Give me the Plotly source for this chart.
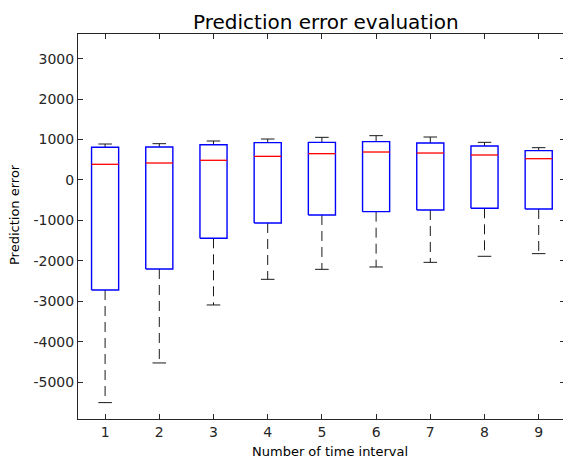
import plotly.graph_objects as go

# Data
intervals = [1, 2, 3, 4, 5, 6, 7, 8, 9]
upper_whisker = [890, 898, 964, 1013, 1055, 1096, 1063, 931, 799]
q3 = [808, 816, 873, 923, 931, 948, 915, 840, 725]
median = [388, 420, 487, 585, 651, 692, 667, 618, 527]
q1 = [-2720, -2200, -1442, -1063, -865, -783, -742, -700, -717]
lower_whisker = [-5505, -4524, -3090, -2456, -2209, -2151, -2036, -1887, -1821]
y_ticks = [-5000, -4000, -3000, -2000, -1000, 0, 1000, 2000, 3000]

W, H = 563, 461
ML, MR, MT, MB = 78, 0, 34, 42
box_half = 0.25
cap_half = 0.125

bx, by = [], []
mx, my = [], []
wx, wy = [], []
cx, cy = [], []
for x, lw, a, m, b, uw in zip(intervals, lower_whisker, q1, median, q3, upper_whisker):
    bx += [x - box_half, x - box_half, x + box_half, x + box_half, x - box_half, None]
    by += [a, b, b, a, a, None]
    mx += [x - box_half, x + box_half, None]
    my += [m, m, None]
    wx += [x, x, None, x, x, None]
    wy += [b, uw, None, a, lw, None]
    cx += [x - cap_half, x + cap_half, None, x - cap_half, x + cap_half, None]
    cy += [uw, uw, None, lw, lw, None]

fig = go.Figure()
fig.add_trace(go.Scatter(x=wx, y=wy, mode="lines", line=dict(color="#1a1a1a", width=1, dash="10px,6px"),
                         hoverinfo="skip", showlegend=False))
fig.add_trace(go.Scatter(x=cx, y=cy, mode="lines", line=dict(color="#1a1a1a", width=1),
                         hoverinfo="skip", showlegend=False))
fig.add_trace(go.Scatter(x=bx, y=by, mode="lines", line=dict(color="#0000ff", width=1.4),
                         hoverinfo="skip", showlegend=False))
fig.add_trace(go.Scatter(x=mx, y=my, mode="lines", line=dict(color="#ff0000", width=1.3),
                         hoverinfo="skip", showlegend=False))
# invisible trace to activate the right-side tick axis
fig.add_trace(go.Scatter(x=[intervals[0]], y=[0], yaxis="y2", mode="markers",
                         marker=dict(opacity=0), hoverinfo="skip", showlegend=False))

ppu = 54.2  # pixels per x unit
x_right = 0.5 + (W - ML - MR) / ppu
y_range = [-5910, 3610]
pw = W - ML - MR
ph = H - MT - MB

fig.update_layout(
    width=W, height=H,
    margin=dict(l=ML, r=MR, t=MT, b=MB, pad=0, autoexpand=False),
    paper_bgcolor="white", plot_bgcolor="white",
    font=dict(family="DejaVu Sans", size=14, color="#262626"),
    xaxis=dict(range=[0.5, x_right], tickvals=intervals, ticktext=[str(v) for v in intervals],
               ticks="inside", ticklen=5, tickcolor="#262626", showline=True, linecolor="#262626",
               linewidth=1, mirror="ticks", showgrid=False, zeroline=False, automargin=False,
               tickfont=dict(size=14)),
    yaxis=dict(range=y_range, tickvals=y_ticks, ticktext=[str(v) for v in y_ticks],
               ticks="inside", ticklen=5, tickcolor="#262626", showline=True, linecolor="#262626",
               linewidth=1, showgrid=False, zeroline=False, automargin=False,
               tickfont=dict(size=14)),
    yaxis2=dict(range=y_range, tickvals=y_ticks, overlaying="y", side="right", anchor="free",
                position=1, ticks="inside", ticklen=3, tickcolor="#262626", showline=False,
                showticklabels=False, showgrid=False, zeroline=False, automargin=False),
    annotations=[
        dict(text="Prediction error evaluation", xref="paper", yref="paper",
             x=(326 - ML) / pw, y=(H - 22 - MB) / ph, xanchor="center", yanchor="middle",
             showarrow=False, font=dict(size=20, color="#000000")),
        dict(text="Number of time interval", xref="paper", yref="paper",
             x=(330 - ML) / pw, y=-(452 - (H - MB)) / ph, xanchor="center", yanchor="middle",
             showarrow=False, font=dict(size=13, color="#000000")),
        dict(text="Prediction error", xref="paper", yref="paper", textangle=-90,
             x=-(ML - 14) / pw, y=(H - 215 - MB) / ph, xanchor="center", yanchor="middle",
             showarrow=False, font=dict(size=13, color="#000000")),
    ],
)

fig.write_html("out.html", config={"displayModeBar": False},
               post_script="document.body.style.margin='0';document.body.style.overflow='hidden';")
